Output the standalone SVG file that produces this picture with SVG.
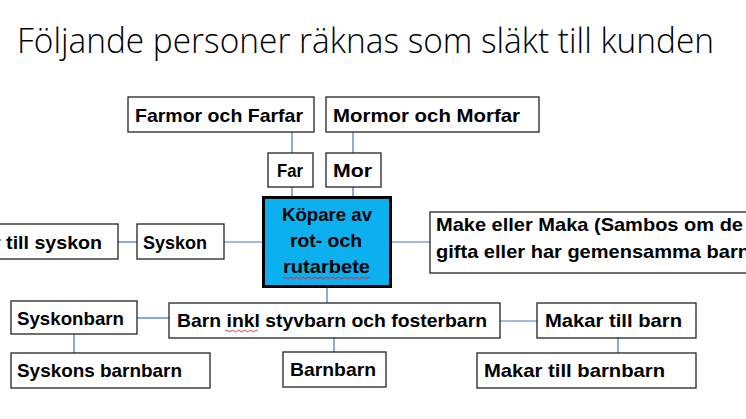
<svg xmlns="http://www.w3.org/2000/svg" width="746" height="419" viewBox="0 0 746 419">
<style>
.box{fill:#fff;stroke:#222;stroke-width:1.3}
.lbl{font-family:"Liberation Sans",Arial,sans-serif;font-weight:bold;font-size:19px;fill:#000}
.title{font-family:"Open Sans","Liberation Sans",sans-serif;font-weight:300;font-size:35px;fill:#000}
.conn{stroke:#4472C4;stroke-width:1.2;fill:none}
.sq{stroke:#e02020;stroke-width:0.9;fill:none}
</style>
<rect width="746" height="419" fill="#fff"/>
<text class="title" x="17" y="53" textLength="697" lengthAdjust="spacingAndGlyphs">Följande personer räknas som släkt till kunden</text>
<g id="connectors">
<line class="conn" x1="292" y1="132" x2="292" y2="153"/>
<line class="conn" x1="292" y1="187" x2="292" y2="196"/>
<line class="conn" x1="353" y1="132" x2="353" y2="153"/>
<line class="conn" x1="353" y1="187" x2="353" y2="196"/>
<line class="conn" x1="118" y1="242" x2="137" y2="242"/>
<line class="conn" x1="224" y1="242" x2="263" y2="242"/>
<line class="conn" x1="391" y1="242" x2="430" y2="242"/>
<line class="conn" x1="327" y1="288" x2="327" y2="303"/>
<line class="conn" x1="137" y1="318" x2="169" y2="318"/>
<line class="conn" x1="74" y1="334" x2="74" y2="353"/>
<line class="conn" x1="334" y1="338" x2="334" y2="352"/>
<line class="conn" x1="500" y1="321" x2="537" y2="321"/>
<line class="conn" x1="618" y1="338" x2="618" y2="353"/>
</g>
<g id="farmor">
<rect class="box" x="128" y="97" width="186" height="35"/>
<text class="lbl" x="135" y="122" textLength="168" lengthAdjust="spacingAndGlyphs">Farmor och Farfar</text>
</g>
<g id="mormor">
<rect class="box" x="326" y="97" width="213" height="35"/>
<text class="lbl" x="333" y="122" textLength="187" lengthAdjust="spacingAndGlyphs">Mormor och Morfar</text>
</g>
<g id="far">
<rect class="box" x="268" y="153" width="45" height="34"/>
<text class="lbl" x="277" y="177" textLength="26" lengthAdjust="spacingAndGlyphs">Far</text>
</g>
<g id="mor">
<rect class="box" x="326" y="153" width="55" height="34"/>
<text class="lbl" x="333" y="177" textLength="39" lengthAdjust="spacingAndGlyphs">Mor</text>
</g>
<g id="kopare">
<rect x="263.5" y="197.5" width="127" height="89" fill="#0DB0EE" stroke="#000" stroke-width="3"/>
<text class="lbl" x="327" y="221" text-anchor="middle" textLength="90" lengthAdjust="spacingAndGlyphs">Köpare av</text>
<text class="lbl" x="326" y="247" text-anchor="middle" textLength="72" lengthAdjust="spacingAndGlyphs">rot- och</text>
<text class="lbl" x="326.5" y="273" text-anchor="middle" textLength="87" lengthAdjust="spacingAndGlyphs">rutarbete</text>
<path class="sq" d="M283 278 q1.5 -1.5 3 0 t3 0 t3 0 t3 0 t3 0 t3 0 t3 0 t3 0 t3 0 t3 0 t3 0 t3 0 t3 0 t3 0 t3 0 t3 0 t3 0 t3 0 t3 0 t3 0 t3 0 t3 0 t3 0 t3 0 t3 0 t3 0 t3 0 t3 0 t3 0"/>
</g>
<g id="syskon">
<rect class="box" x="137" y="224" width="87" height="35"/>
<text class="lbl" x="143" y="249" textLength="64" lengthAdjust="spacingAndGlyphs">Syskon</text>
</g>
<g id="makar-syskon">
<rect class="box" x="-20" y="224" width="138" height="35"/>
<text class="lbl" x="102" y="249" text-anchor="end" textLength="158" lengthAdjust="spacingAndGlyphs">Makar till syskon</text>
</g>
<g id="make">
<rect class="box" x="430" y="212" width="330" height="61"/>
<text class="lbl" x="436" y="231" textLength="307" lengthAdjust="spacingAndGlyphs">Make eller Maka (Sambos om de</text>
<text class="lbl" x="436" y="258" textLength="314" lengthAdjust="spacingAndGlyphs">gifta eller har gemensamma barn</text>
</g>
<g id="barn">
<rect class="box" x="169" y="303" width="331" height="35"/>
<text class="lbl" x="177" y="327" textLength="310" lengthAdjust="spacingAndGlyphs">Barn inkl styvbarn och fosterbarn</text>
<path class="sq" d="M225 331 q1.5 -1.5 3 0 t3 0 t3 0 t3 0 t3 0 t3 0 t3 0 t3 0 t3 0 t3 0 t3 0"/>
</g>
<g id="syskonbarn">
<rect class="box" x="11" y="301" width="126" height="33"/>
<text class="lbl" x="17" y="325" textLength="107" lengthAdjust="spacingAndGlyphs">Syskonbarn</text>
</g>
<g id="syskons-barnbarn">
<rect class="box" x="11" y="353" width="199" height="35"/>
<text class="lbl" x="17" y="377" textLength="165" lengthAdjust="spacingAndGlyphs">Syskons barnbarn</text>
</g>
<g id="barnbarn">
<rect class="box" x="283" y="352" width="103" height="35"/>
<text class="lbl" x="290" y="376" textLength="86" lengthAdjust="spacingAndGlyphs">Barnbarn</text>
</g>
<g id="makar-barn">
<rect class="box" x="537" y="303" width="159" height="35"/>
<text class="lbl" x="545" y="327" textLength="137" lengthAdjust="spacingAndGlyphs">Makar till barn</text>
</g>
<g id="makar-barnbarn">
<rect class="box" x="477" y="353" width="219" height="35"/>
<text class="lbl" x="484" y="377" textLength="181" lengthAdjust="spacingAndGlyphs">Makar till barnbarn</text>
</g>
</svg>
